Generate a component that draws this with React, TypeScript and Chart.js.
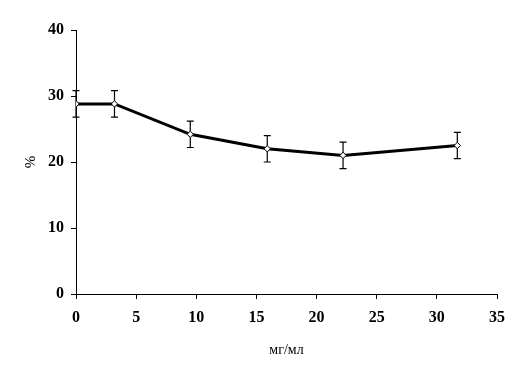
import React, { useEffect, useRef } from "react";
import { Chart, registerables } from "chart.js";

Chart.register(...registerables);

const concentrations = [0, 3.2, 9.5, 15.9, 22.2, 31.7];
const percentValues = [28.8, 28.8, 24.2, 22.0, 21.0, 22.5];
const percentErrors = [2.0, 2.0, 2.0, 2.0, 2.0, 2.0];
const xTitle = "мг/мл";
const yTitle = "%";

const errorBarPlugin = {
  id: "errorBars",
  beforeDatasetsDraw(chart: any) {
    const { ctx, scales } = chart;
    const xs = scales.x;
    const ys = scales.y;
    ctx.save();
    ctx.strokeStyle = "#000";
    ctx.lineWidth = 1.2;
    const cap = 3.5;
    concentrations.forEach((xv, i) => {
      const px = xs.getPixelForValue(xv);
      const top = ys.getPixelForValue(percentValues[i] + percentErrors[i]);
      const bot = ys.getPixelForValue(percentValues[i] - percentErrors[i]);
      ctx.beginPath();
      ctx.moveTo(px, top);
      ctx.lineTo(px, bot);
      ctx.moveTo(px - cap, top);
      ctx.lineTo(px + cap, top);
      ctx.moveTo(px - cap, bot);
      ctx.lineTo(px + cap, bot);
      ctx.stroke();
    });
    ctx.restore();
  },
};

export default function App() {
  const ref = useRef<HTMLCanvasElement>(null);
  useEffect(() => {
    if (!ref.current) return;
    const tickFont = { family: "'Liberation Serif', 'Times New Roman', serif", size: 16, weight: "bold" as const };
    const chart = new Chart(ref.current, {
      type: "line",
      data: {
        datasets: [
          {
            data: concentrations.map((x, i) => ({ x, y: percentValues[i] })),
            borderColor: "#000",
            borderWidth: 3,
            tension: 0,
            pointStyle: "rectRot",
            pointRadius: 3.2,
            pointBackgroundColor: "#fff",
            pointBorderColor: "#000",
            pointBorderWidth: 1,
          },
        ],
      },
      options: {
        animation: false,
        responsive: false,
        layout: { padding: { left: 0, top: 30, right: 32, bottom: 0 } },
        plugins: { legend: { display: false }, tooltip: { enabled: false } },
        scales: {
          x: {
            type: "linear",
            min: 0,
            max: 35,
            ticks: { stepSize: 5, color: "#000", font: tickFont, padding: 9, maxRotation: 0 },
            grid: { display: true, drawOnChartArea: false, drawTicks: true, tickLength: 5, color: "#000" },
            border: { display: true, color: "#000", width: 1 },
            title: {
              display: true,
              text: xTitle,
              color: "#000",
              font: { family: "'Liberation Serif', 'Times New Roman', serif", size: 14 },
              padding: { top: 0, bottom: 20 },
            },
            afterFit(scale: any) {
              scale.height = 85;
            },
          },
          y: {
            type: "linear",
            min: 0,
            max: 40,
            ticks: { stepSize: 10, color: "#000", font: tickFont, padding: 7 },
            grid: { display: true, drawOnChartArea: false, drawTicks: true, tickLength: 5, color: "#000" },
            border: { display: true, color: "#000", width: 1 },
            title: {
              display: true,
              text: yTitle,
              color: "#000",
              font: { family: "'Liberation Serif', 'Times New Roman', serif", size: 15 },
              padding: { top: 22, bottom: 0 },
            },
            afterFit(scale: any) {
              scale.width = 76;
            },
          },
        },
      },
      plugins: [errorBarPlugin],
    });
    return () => chart.destroy();
  }, []);
  return (
    <div style={{ position: "absolute", left: 0, top: 0, width: 529, height: 379, background: "#fff" }}>
      <canvas ref={ref} width={529} height={379} />
    </div>
  );
}
